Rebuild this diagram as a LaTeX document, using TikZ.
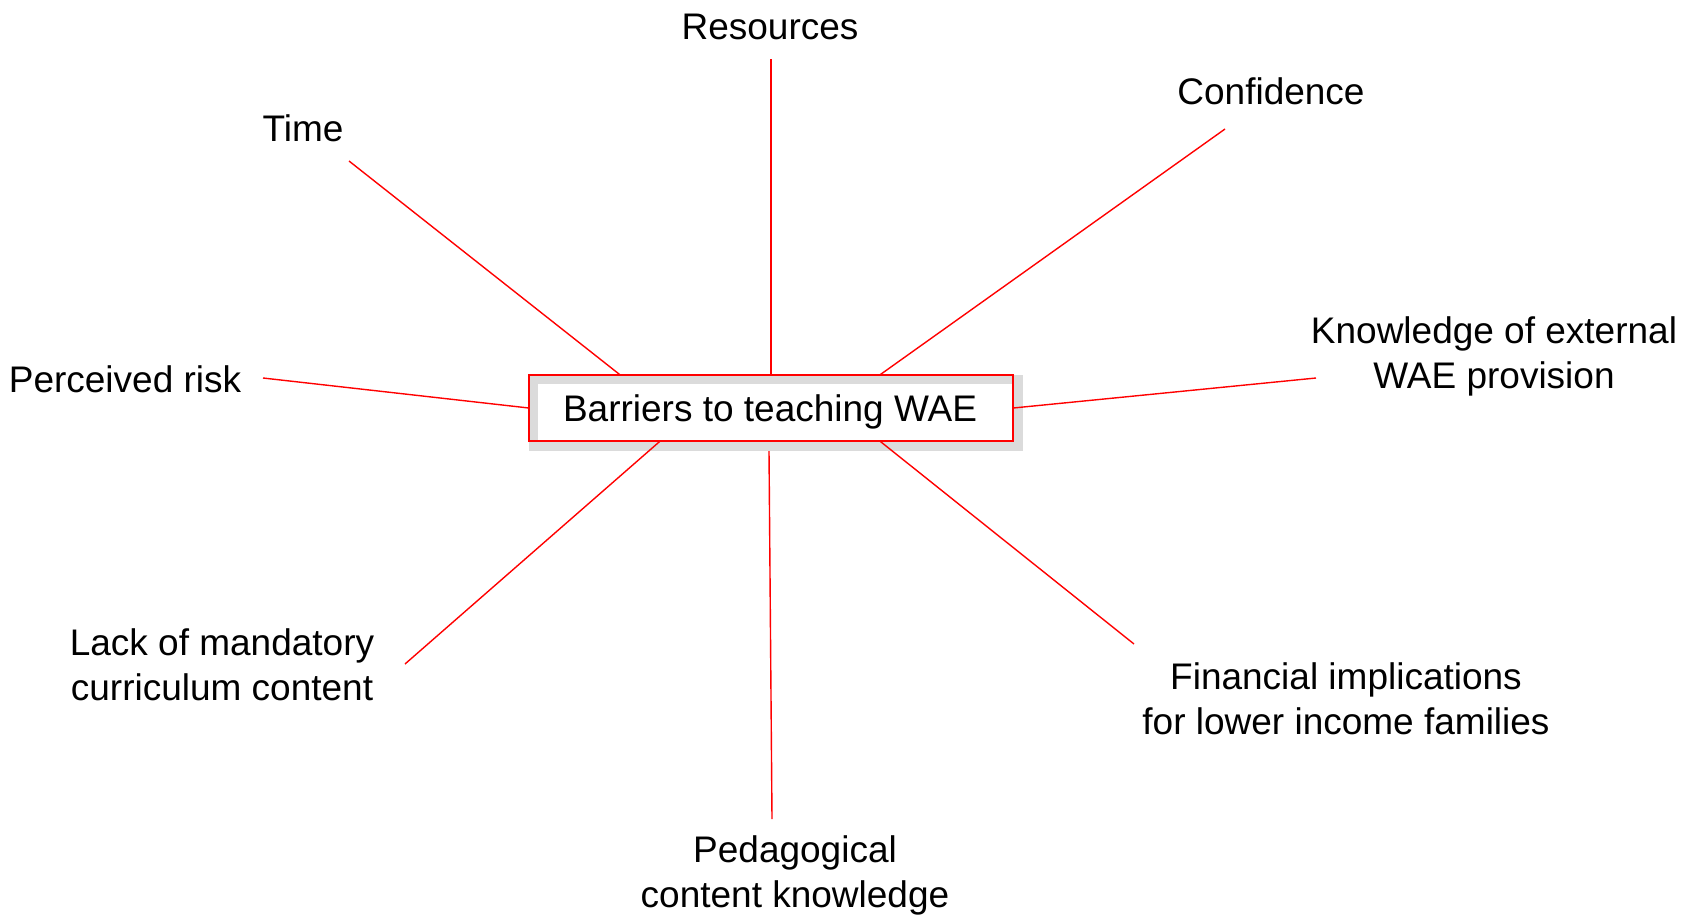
\documentclass[tikz,border=0pt]{standalone}
\usepackage{fontspec}
\setmainfont{Liberation Sans}
\begin{document}
\begin{tikzpicture}[x=1pt,y=-1pt,
  lbl/.style={font=\fontsize{37}{45}\selectfont, align=center, inner sep=0pt},
  link/.style={draw=red, line width=1.4pt},
  central/.style={fill=white, minimum width=484pt, minimum height=66pt, inner sep=0pt},
  frameshadow/.style={draw=black!14, line width=9pt},
  frameline/.style={draw=red, line width=2pt},
  ctext/.style={font=\fontsize{37}{45}\selectfont, inner sep=0pt}]
\useasboundingbox (0,0) rectangle (1685,921);
% central box with frame shadow
\node[central] (box) at (771,408) {};
\draw[frameshadow] ([xshift=5pt,yshift=-5pt]box.south west) rectangle ([xshift=5pt,yshift=-5pt]box.north east);
\draw[frameline] (box.south west) rectangle (box.north east);
\node[ctext] (boxtext) at (770,412) {Barriers to teaching WAE};
% labels
\node[lbl] (res) at (770,27) {Resources};
\node[lbl] (conf) at (1271,91) {Confidence};
\node[lbl] (time) at (303,128) {Time};
\node[lbl] (risk) at (125,379) {Perceived risk};
\node[lbl] (know) at (1494,356) {Knowledge of external\\WAE provision};
\node[lbl] (lack) at (222,665) {Lack of mandatory\\ curriculum content};
\node[lbl] (fin) at (1346,699) {Financial implications\\for lower income families};
\node[lbl] (ped) at (795,875) {Pedagogical\\content knowledge};
% free ends near labels
\coordinate (cres) at (771,59);
\coordinate (cconf) at (1225,129);
\coordinate (ctime) at (349,161);
\coordinate (crisk) at (263,378);
\coordinate (cknow) at (1316,378);
\coordinate (clack) at (405,664);
\coordinate (cfin) at (1134,644);
\coordinate (cped) at (772,819);
% connectors
\draw[link] (cres) -- (box.north);
\draw[link] (cconf) -- ([xshift=109pt]box.north);
\draw[link] (ctime) -- ([xshift=-151pt]box.north);
\draw[link] (crisk) -- (box.west);
\draw[link] (cknow) -- (box.east);
\draw[link] (clack) -- ([xshift=-111pt]box.south);
\draw[link] (cfin) -- ([xshift=109pt]box.south);
\draw[link] (cped) -- ([xshift=-2pt,yshift=-10pt]box.south);
\end{tikzpicture}
\end{document}
